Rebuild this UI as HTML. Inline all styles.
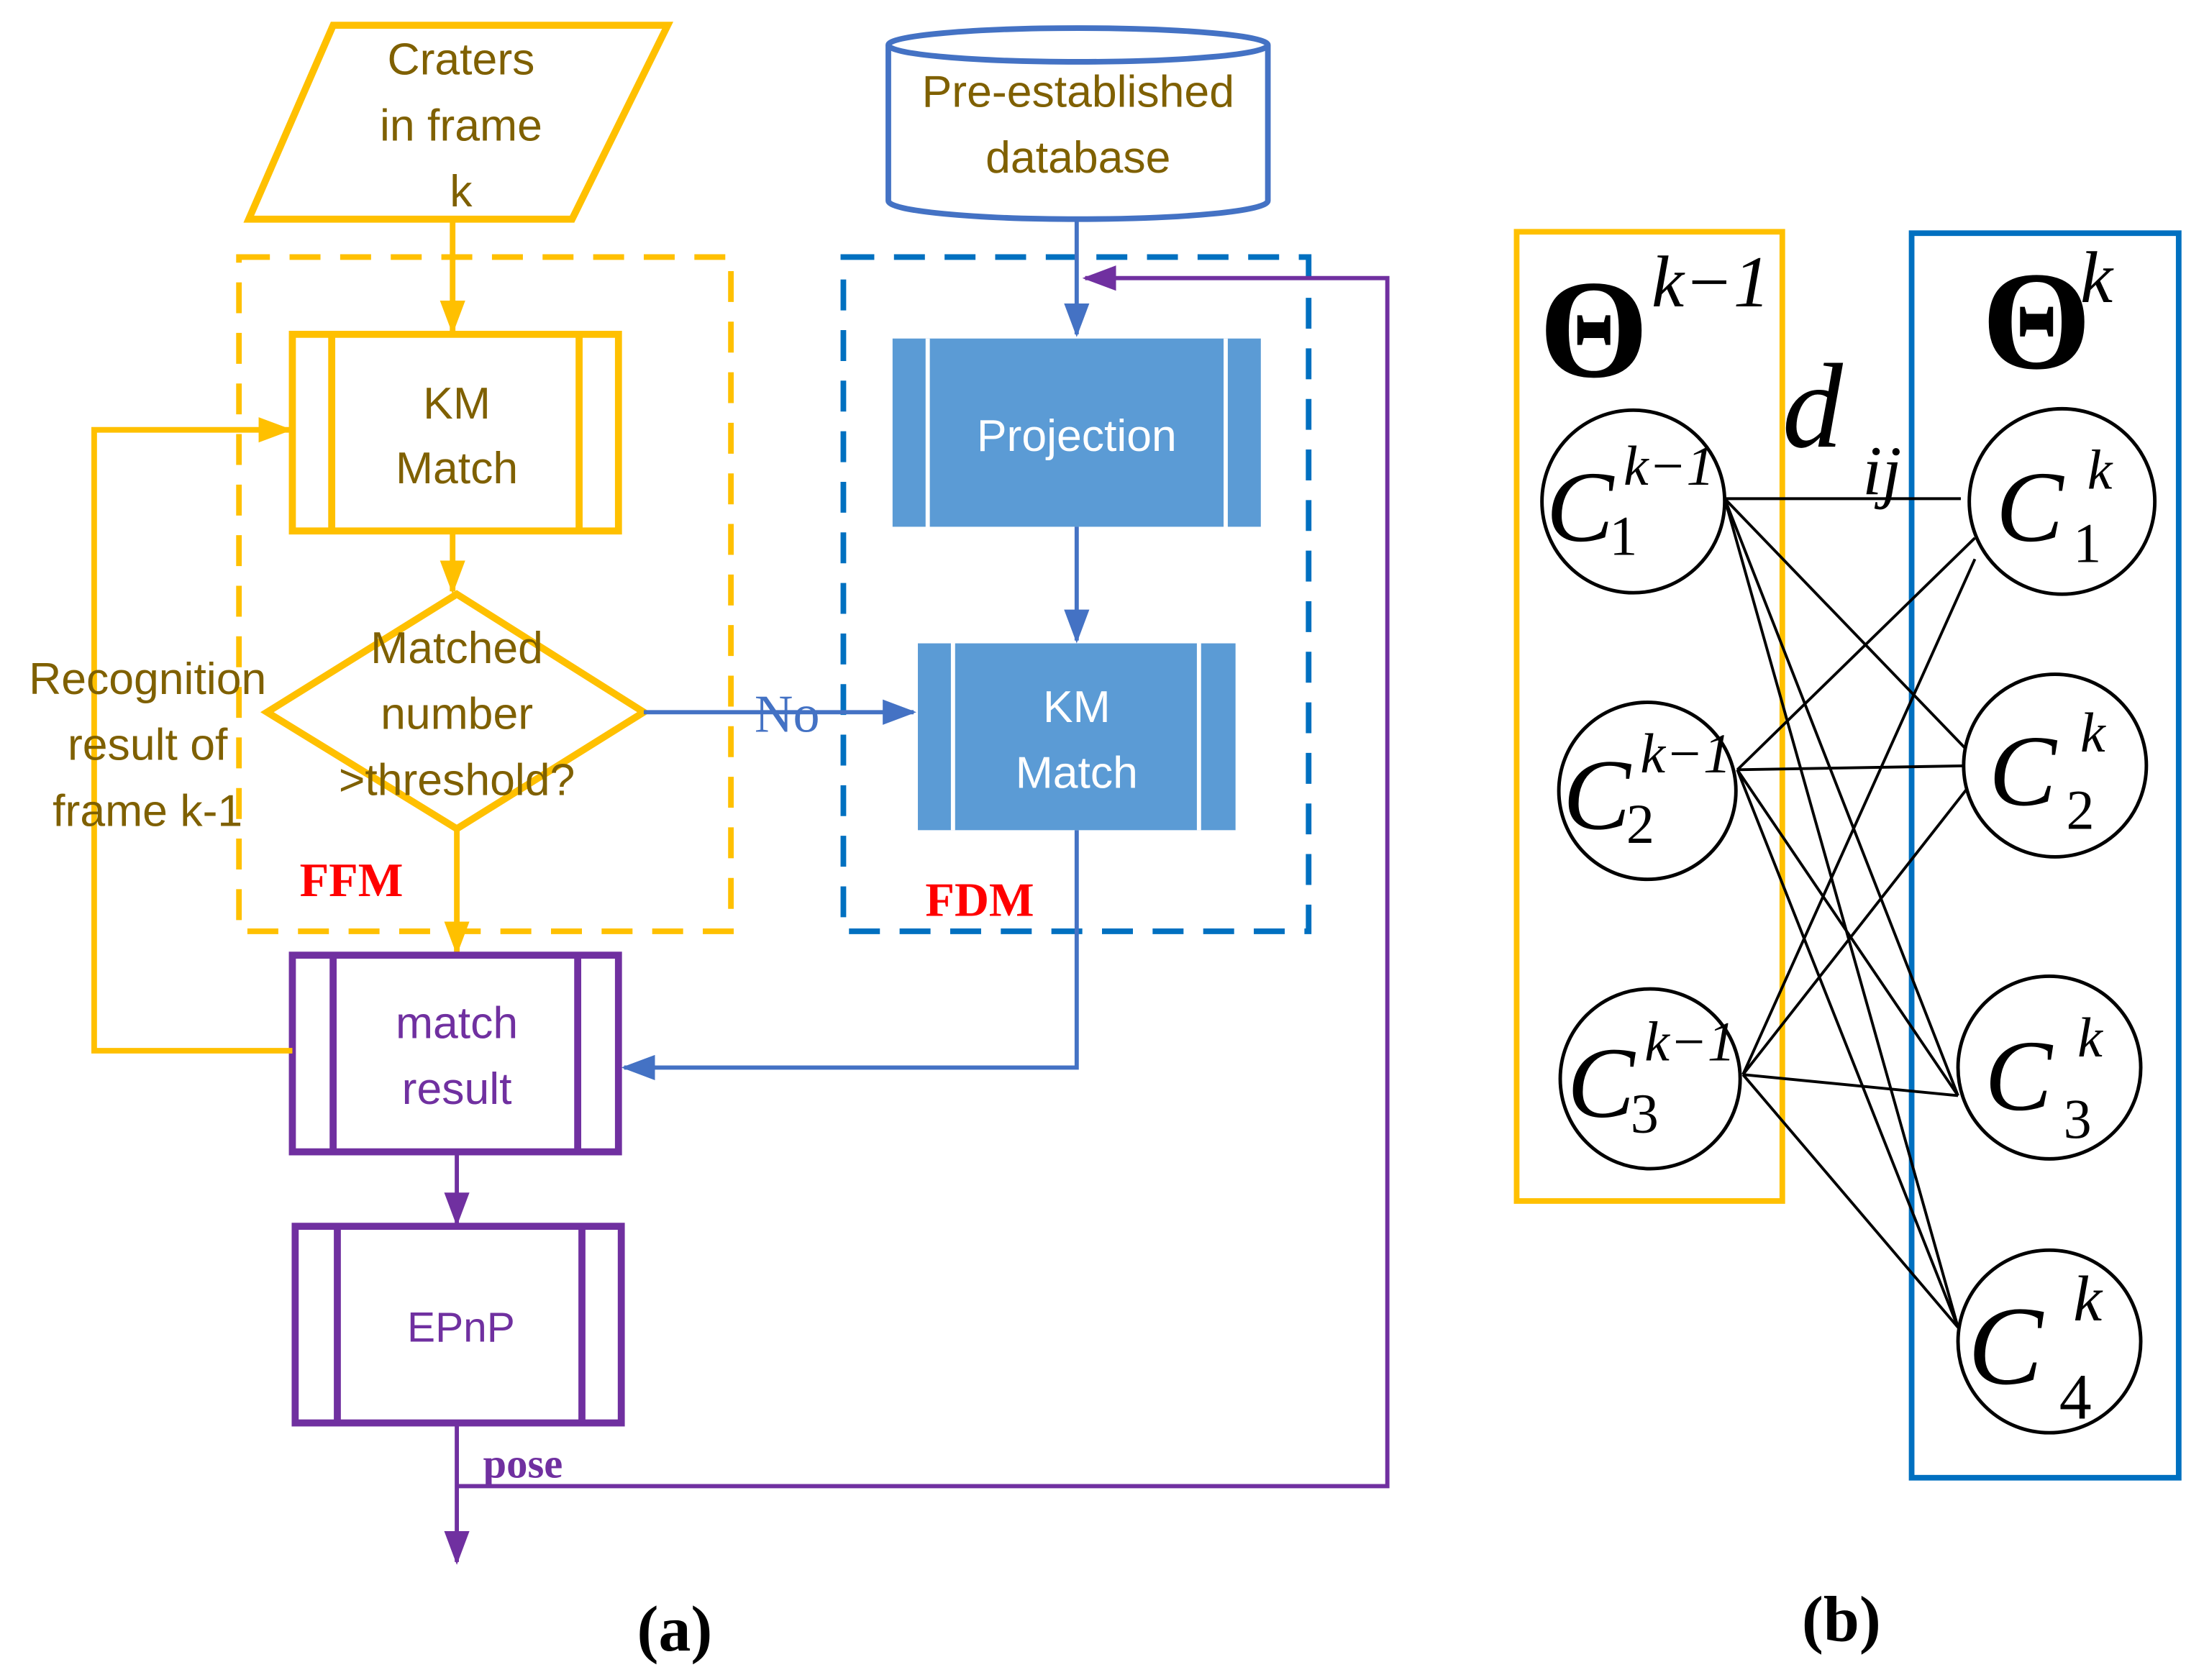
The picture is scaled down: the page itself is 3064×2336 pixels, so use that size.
<!DOCTYPE html>
<html><head><style>html,body{margin:0;padding:0;background:#fff}svg{display:block}</style></head>
<body>
<svg width="3064" height="2336" viewBox="0 0 1568 1196" preserveAspectRatio="none" xmlns="http://www.w3.org/2000/svg">
<defs>
<marker id="ao" markerWidth="8" markerHeight="8" refX="6" refY="4" orient="auto" markerUnits="userSpaceOnUse" viewBox="0 0 8 8"><path d="M0,0 L8,4 L0,8 z" fill="#FFC000" transform="scale(1)"/></marker>
<marker id="ab" markerWidth="24" markerHeight="18" refX="22" refY="9" orient="auto" markerUnits="userSpaceOnUse"><path d="M0,0 L24,9 L0,18 z" fill="#4472C4"/></marker>
<marker id="ay" markerWidth="24" markerHeight="18" refX="22" refY="9" orient="auto" markerUnits="userSpaceOnUse"><path d="M0,0 L24,9 L0,18 z" fill="#FFC000"/></marker>
<marker id="ap" markerWidth="24" markerHeight="18" refX="22" refY="9" orient="auto" markerUnits="userSpaceOnUse"><path d="M0,0 L24,9 L0,18 z" fill="#7030A0"/></marker>
</defs>
<g font-family="Liberation Sans, sans-serif" font-size="32" text-anchor="middle">
<!-- parallelogram -->
<polygon points="237,18 475,18 407,156 177,156" fill="none" stroke="#FFC000" stroke-width="5"/>
<g fill="#7F6000"><text x="328" y="53">Craters</text><text x="328" y="100">in frame</text><text x="328" y="147">k</text></g>
<!-- cylinder -->
<path d="M632,32 L632,143 A135,13 0 0 0 902,143 L902,32" fill="none" stroke="#4472C4" stroke-width="4"/>
<ellipse cx="767" cy="32" rx="135" ry="12" fill="none" stroke="#4472C4" stroke-width="4"/>
<g fill="#7F6000"><text x="767" y="76">Pre-established</text><text x="767" y="123">database</text></g>
<!-- dashed boxes -->
<rect x="170" y="183" width="350" height="480" fill="none" stroke="#FFC000" stroke-width="4" stroke-dasharray="22,14"/>
<rect x="600" y="183" width="331" height="480" fill="none" stroke="#0070C0" stroke-width="4" stroke-dasharray="22,14"/>
<!-- KM orange -->
<rect x="208" y="238" width="232" height="140" fill="none" stroke="#FFC000" stroke-width="5"/>
<line x1="236" y1="238" x2="236" y2="378" stroke="#FFC000" stroke-width="5"/><line x1="412" y1="238" x2="412" y2="378" stroke="#FFC000" stroke-width="5"/>
<g fill="#7F6000"><text x="325" y="298">KM</text><text x="325" y="344">Match</text></g>
<line x1="322" y1="156" x2="322" y2="236" stroke="#FFC000" stroke-width="4" marker-end="url(#ay)"/>
<line x1="322" y1="378" x2="322" y2="421" stroke="#FFC000" stroke-width="4" marker-end="url(#ay)"/>
<!-- diamond -->
<polygon points="325,423 458,507 325,590 190,507" fill="none" stroke="#FFC000" stroke-width="5"/>
<g fill="#7F6000"><text x="325" y="472">Matched</text><text x="325" y="519">number</text><text x="325" y="566">&gt;threshold?</text></g>
<line x1="325" y1="590" x2="325" y2="678" stroke="#FFC000" stroke-width="4" marker-end="url(#ay)"/>
<text x="250" y="638" fill="#FF0000" font-family="Liberation Serif, serif" font-weight="bold" font-size="34">FFM</text>
<!-- projection -->
<rect x="635" y="241" width="262" height="134" fill="#5B9BD5"/>
<line x1="660" y1="241" x2="660" y2="375" stroke="#fff" stroke-width="3"/><line x1="872" y1="241" x2="872" y2="375" stroke="#fff" stroke-width="3"/>
<text x="766" y="321" fill="#fff">Projection</text>
<line x1="766" y1="156" x2="766" y2="238" stroke="#4472C4" stroke-width="3" marker-end="url(#ab)"/>
<line x1="766" y1="375" x2="766" y2="456" stroke="#4472C4" stroke-width="3" marker-end="url(#ab)"/>
<!-- KM blue -->
<rect x="653" y="458" width="226" height="133" fill="#5B9BD5"/>
<line x1="678" y1="458" x2="678" y2="591" stroke="#fff" stroke-width="3"/><line x1="853" y1="458" x2="853" y2="591" stroke="#fff" stroke-width="3"/>
<g fill="#fff"><text x="766" y="514">KM</text><text x="766" y="561">Match</text></g>
<line x1="458" y1="507" x2="650" y2="507" stroke="#4472C4" stroke-width="3" marker-end="url(#ab)"/>
<text x="560" y="521" fill="#4472C4" font-family="Liberation Serif, serif" font-size="38">No</text>
<text x="697" y="652" fill="#FF0000" font-family="Liberation Serif, serif" font-weight="bold" font-size="34">FDM</text>
<polyline points="766,591 766,760 444,760" fill="none" stroke="#4472C4" stroke-width="3" marker-end="url(#ab)"/>
<!-- match result -->
<rect x="208" y="680" width="232" height="140" fill="none" stroke="#7030A0" stroke-width="5"/>
<line x1="237" y1="680" x2="237" y2="820" stroke="#7030A0" stroke-width="5"/><line x1="411" y1="680" x2="411" y2="820" stroke="#7030A0" stroke-width="5"/>
<g fill="#7030A0"><text x="325" y="739">match</text><text x="325" y="786">result</text></g>
<polyline points="208,748 67,748 67,306 206,306" fill="none" stroke="#FFC000" stroke-width="4" marker-end="url(#ay)"/>
<g fill="#7F6000"><text x="105" y="494">Recognition</text><text x="105" y="541">result of</text><text x="105" y="588">frame k-1</text></g>
<line x1="325" y1="820" x2="325" y2="871" stroke="#7030A0" stroke-width="3" marker-end="url(#ap)"/>
<!-- EPnP -->
<rect x="210" y="873" width="232" height="140" fill="none" stroke="#7030A0" stroke-width="5"/>
<line x1="240" y1="873" x2="240" y2="1013" stroke="#7030A0" stroke-width="5"/><line x1="414" y1="873" x2="414" y2="1013" stroke="#7030A0" stroke-width="5"/>
<text x="328" y="955" fill="#7030A0" font-size="30">EPnP</text>
<line x1="325" y1="1013" x2="325" y2="1112" stroke="#7030A0" stroke-width="3" marker-end="url(#ap)"/>
<polyline points="325,1058 987,1058 987,198 772,198" fill="none" stroke="#7030A0" stroke-width="3" marker-end="url(#ap)"/>
<text x="372" y="1052" fill="#7030A0" font-family="Liberation Serif, serif" font-weight="bold" font-size="30">pose</text>
<text x="480" y="1175" font-family="Liberation Serif, serif" font-weight="bold" font-size="46">(a)</text>
<text x="1310" y="1168" font-family="Liberation Serif, serif" font-weight="bold" font-size="46">(b)</text>
</g>
<!-- right panel -->
<rect x="1079" y="165" width="189" height="690" fill="none" stroke="#FFC000" stroke-width="4"/>
<rect x="1360" y="166" width="190" height="886" fill="none" stroke="#0070C0" stroke-width="4"/>
<g stroke="#000" stroke-width="2">
<line x1="1227" y1="355" x2="1395" y2="355"/><line x1="1227" y1="355" x2="1410" y2="545"/><line x1="1227" y1="355" x2="1393" y2="780"/><line x1="1227" y1="355" x2="1393" y2="945"/>
<line x1="1236" y1="548" x2="1405" y2="383"/><line x1="1236" y1="548" x2="1410" y2="545"/><line x1="1236" y1="548" x2="1393" y2="780"/><line x1="1236" y1="548" x2="1393" y2="945"/>
<line x1="1240" y1="765" x2="1405" y2="398"/><line x1="1240" y1="765" x2="1410" y2="548"/><line x1="1240" y1="765" x2="1393" y2="780"/><line x1="1240" y1="765" x2="1393" y2="945"/>
</g>
<g fill="#fff" stroke="#000" stroke-width="2.5">
<circle cx="1162" cy="357" r="65"/><circle cx="1172" cy="563" r="63"/><circle cx="1174" cy="768" r="64"/>
<circle cx="1467" cy="357" r="66"/><circle cx="1462" cy="545" r="65"/><circle cx="1458" cy="760" r="65"/><circle cx="1458" cy="955" r="65"/>
</g>
<g font-family="Liberation Serif, serif" font-style="italic">
<text x="1095" y="268" font-size="100" font-weight="bold" font-style="normal">Θ</text>
<text x="1175" y="218" font-size="52">k−1</text>
<text x="1410" y="262" font-size="100" font-weight="bold" font-style="normal">Θ</text>
<text x="1480" y="215" font-size="52">k</text>
<text x="1268" y="318" font-size="86">d</text><text x="1325" y="352" font-size="50">ij</text>
<text x="1100" y="385" font-size="72">C</text><text x="1155" y="345" font-size="40">k−1</text><text x="1145" y="395" font-size="40" font-style="normal">1</text>
<text x="1112" y="590" font-size="72">C</text><text x="1167" y="550" font-size="40">k−1</text><text x="1157" y="600" font-size="40" font-style="normal">2</text>
<text x="1115" y="795" font-size="72">C</text><text x="1170" y="755" font-size="40">k−1</text><text x="1160" y="806" font-size="40" font-style="normal">3</text>
<text x="1420" y="385" font-size="72">C</text><text x="1485" y="348" font-size="40">k</text><text x="1475" y="400" font-size="40" font-style="normal">1</text>
<text x="1415" y="573" font-size="72">C</text><text x="1480" y="535" font-size="40">k</text><text x="1470" y="590" font-size="40" font-style="normal">2</text>
<text x="1412" y="790" font-size="72">C</text><text x="1478" y="752" font-size="40">k</text><text x="1468" y="810" font-size="40" font-style="normal">3</text>
<text x="1400" y="985" font-size="80">C</text><text x="1475" y="940" font-size="46">k</text><text x="1465" y="1010" font-size="46" font-style="normal">4</text>
</g>
</svg>
</body></html>
